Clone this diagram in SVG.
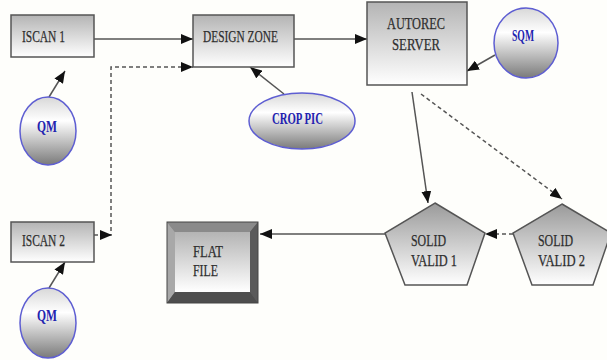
<svg xmlns="http://www.w3.org/2000/svg" width="607" height="360" viewBox="0 0 607 360">
  <defs>
    <linearGradient id="boxFill" x1="0" y1="0" x2="0" y2="1">
      <stop offset="0" stop-color="#b4b4b4"/>
      <stop offset="1" stop-color="#ffffff"/>
    </linearGradient>
    <linearGradient id="pentFill" x1="0" y1="0" x2="0" y2="1">
      <stop offset="0" stop-color="#9a9a9a"/>
      <stop offset="1" stop-color="#ffffff"/>
    </linearGradient>
    <linearGradient id="ballFill" x1="0" y1="0" x2="0" y2="1">
      <stop offset="0" stop-color="#d8d8d8"/>
      <stop offset="0.35" stop-color="#ffffff"/>
      <stop offset="1" stop-color="#7a7a7a"/>
    </linearGradient>
    <marker id="arrow" viewBox="0 0 12 10" refX="12" refY="5" markerWidth="12" markerHeight="10" markerUnits="userSpaceOnUse" orient="auto">
      <path d="M0,0 L12,5 L0,10 z" fill="#111"/>
    </marker>
    <style>
      .box { fill: url(#boxFill); stroke: #555; stroke-width: 1.5; }
      .pent { fill: url(#pentFill); stroke: #555; stroke-width: 1.5; }
      .ball { fill: url(#ballFill); stroke: #5e5ed2; stroke-width: 1.5; }
      .lbl { font-family: "Liberation Serif", "DejaVu Serif", serif; font-size: 17px; fill: #2e2e2e; stroke: #2e2e2e; stroke-width: 0.25; }
      .blbl { font-family: "Liberation Serif", "DejaVu Serif", serif; font-size: 16px; font-weight: bold; fill: #2323b0; }
      .link { fill: none; stroke: #555; stroke-width: 1.5; }
      .dash { fill: none; stroke: #555; stroke-width: 1.5; stroke-dasharray: 4 3; }
    </style>
  </defs>

  <rect width="607" height="360" fill="#fefefb"/>

  <!-- connectors -->
  <g id="connectors">
    <line class="link" x1="94" y1="39" x2="193" y2="39" marker-end="url(#arrow)"/>
    <path class="dash" d="M94,235 H111 V67 H193" marker-end="url(#arrow)"/>
    <path d="M100,230 L112,235 L100,240 z" fill="#111"/>
    <line class="link" x1="294" y1="39" x2="367" y2="39" marker-end="url(#arrow)"/>
    <line class="link" x1="49" y1="97" x2="65" y2="71" marker-end="url(#arrow)"/>
    <line class="link" x1="49" y1="288" x2="65" y2="262" marker-end="url(#arrow)"/>
    <line class="link" x1="284" y1="94" x2="250" y2="67" marker-end="url(#arrow)"/>
    <line class="link" x1="495" y1="55" x2="467" y2="71" marker-end="url(#arrow)"/>
    <line class="link" x1="412" y1="92" x2="428" y2="203" marker-end="url(#arrow)"/>
    <line class="dash" x1="421" y1="94" x2="562" y2="199" marker-end="url(#arrow)"/>
    <line class="dash" x1="513" y1="234" x2="485" y2="234" marker-end="url(#arrow)"/>
    <line class="link" x1="385" y1="234" x2="260" y2="234" marker-end="url(#arrow)"/>
  </g>

  <g id="iscan1">
    <rect class="box" x="11" y="15" width="83" height="42"/>
    <text class="lbl" x="22" y="42" textLength="43" lengthAdjust="spacingAndGlyphs">ISCAN 1</text>
  </g>

  <g id="iscan2">
    <rect class="box" x="11" y="222" width="83" height="40"/>
    <text class="lbl" x="22" y="246" textLength="43" lengthAdjust="spacingAndGlyphs">ISCAN 2</text>
  </g>

  <g id="design-zone">
    <rect class="box" x="193" y="15" width="101" height="52"/>
    <text class="lbl" x="203" y="42" textLength="75" lengthAdjust="spacingAndGlyphs">DESIGN ZONE</text>
  </g>

  <g id="autorec-server">
    <rect class="box" x="367" y="2" width="100" height="83"/>
    <text class="lbl" x="387" y="29" textLength="58" lengthAdjust="spacingAndGlyphs">AUTOREC</text>
    <text class="lbl" x="392" y="50" textLength="48" lengthAdjust="spacingAndGlyphs">SERVER</text>
  </g>

  <g id="qm1">
    <ellipse class="ball" cx="48" cy="131" rx="28" ry="34"/>
    <text class="blbl" x="37" y="132" textLength="20" lengthAdjust="spacingAndGlyphs">QM</text>
  </g>

  <g id="qm2">
    <ellipse class="ball" cx="48" cy="323" rx="28" ry="35"/>
    <text class="blbl" x="37" y="321" textLength="20" lengthAdjust="spacingAndGlyphs">QM</text>
  </g>

  <g id="sqm">
    <ellipse class="ball" cx="526" cy="43" rx="32" ry="35"/>
    <text class="blbl" x="512" y="41" textLength="22" lengthAdjust="spacingAndGlyphs">SQM</text>
  </g>

  <g id="crop-pic">
    <ellipse class="ball" cx="302" cy="121" rx="53" ry="28"/>
    <text class="blbl" x="272" y="124" textLength="51" lengthAdjust="spacingAndGlyphs">CROP PIC</text>
  </g>

  <g id="solid-valid-1">
    <polygon class="pent" points="435,203 485,233 467,285 405,285 385,233"/>
    <text class="lbl" x="411" y="246" textLength="35" lengthAdjust="spacingAndGlyphs">SOLID</text>
    <text class="lbl" x="411" y="266" textLength="46" lengthAdjust="spacingAndGlyphs">VALID 1</text>
  </g>

  <g id="solid-valid-2">
    <polygon class="pent" points="562,204 611,233 593,285 532,285 513,233"/>
    <text class="lbl" x="538" y="246" textLength="35" lengthAdjust="spacingAndGlyphs">SOLID</text>
    <text class="lbl" x="538" y="266" textLength="47" lengthAdjust="spacingAndGlyphs">VALID 2</text>
  </g>

  <g id="flat-file">
    <rect x="167" y="222" width="91" height="81" fill="#6a6a6a"/>
    <polygon points="167,222 258,222 250,232 175,232" fill="#8a8a8a"/>
    <polygon points="167,222 175,232 175,292 167,303" fill="#a8a8a8"/>
    <polygon points="258,222 258,303 250,292 250,232" fill="#5a5a5a"/>
    <polygon points="167,303 175,292 250,292 258,303" fill="#4e4e4e"/>
    <rect x="175" y="232" width="75" height="60" fill="url(#boxFill)"/>
    <rect x="167" y="222" width="91" height="81" fill="none" stroke="#444" stroke-width="1"/>
    <text class="lbl" x="193" y="257" textLength="30" lengthAdjust="spacingAndGlyphs">FLAT</text>
    <text class="lbl" x="193" y="276" textLength="25" lengthAdjust="spacingAndGlyphs">FILE</text>
  </g>
</svg>
